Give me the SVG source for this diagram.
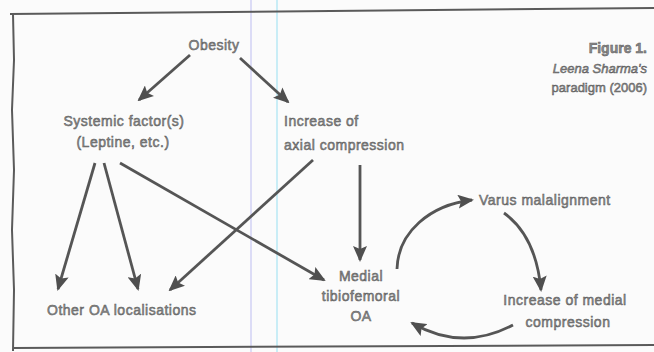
<svg xmlns="http://www.w3.org/2000/svg" width="654" height="352" viewBox="0 0 654 352">
<defs>
<marker id="ah" viewBox="0 0 16 14" refX="14" refY="7" markerWidth="16" markerHeight="14" markerUnits="userSpaceOnUse" orient="auto">
<path d="M0,0 L16,7 L0,14 L3,7 z" fill="#4f4f4f"/>
</marker>
<style>
.t{font-family:"Liberation Sans",Arial,sans-serif;font-size:14px;letter-spacing:0.5px;fill:#8c8c8c;stroke:#5a5a5a;stroke-width:0.5px;}
.cap{font-family:"Liberation Sans",Arial,sans-serif;font-size:13px;fill:#8c8c8c;stroke:#5a5a5a;stroke-width:0.5px;}
.c{stroke:#555;stroke-width:2.8;fill:none;marker-end:url(#ah);}
.fr{stroke:#5a5a5a;stroke-width:2;fill:none;}
</style>
</defs>
<rect width="654" height="352" fill="#fbfbfb"/>
<g id="scan-lines">
<line x1="251" y1="0" x2="251" y2="352" stroke="#c8c8f4" stroke-width="1.2"/>
<line x1="277" y1="0" x2="277" y2="352" stroke="#a8e4f4" stroke-width="1.2"/>
</g>
<g id="frame">
<path class="fr" d="M10,14 L654,8"/>
<path class="fr" d="M13,14 L14,60 L12,110 L14,170 L12,230 L14,290 L13,351"/>
<path class="fr" d="M13,348 L654,345"/>
</g>
<g id="caption">
<text x="647" y="53" text-anchor="end" class="cap" style="font-weight:bold;font-size:14px">Figure 1.</text>
<text x="647" y="73" text-anchor="end" class="cap" style="font-style:italic">Leena Sharma's</text>
<text x="647" y="92" text-anchor="end" class="cap">paradigm (2006)</text>
</g>
<g id="connectors">
<line class="c" x1="190" y1="55" x2="139" y2="100"/>
<line class="c" x1="240" y1="58" x2="288" y2="102"/>
<line class="c" x1="95" y1="163" x2="58" y2="289"/>
<line class="c" x1="104" y1="163" x2="138" y2="289"/>
<line class="c" x1="120" y1="163" x2="324" y2="280"/>
<line class="c" x1="313" y1="160" x2="170" y2="290"/>
<line class="c" x1="360" y1="165" x2="360" y2="260"/>
<path class="c" d="M397,269 C398,232 430,205 472,200"/>
<path class="c" d="M504,213 Q536,236 541,290"/>
<path class="c" d="M513,325 Q462,352 412,323"/>
</g>
<g id="obesity"><text x="214" y="50" text-anchor="middle" class="t">Obesity</text></g>
<g id="systemic">
<text x="124" y="126" text-anchor="middle" class="t">Systemic factor(s)</text>
<text x="123" y="147" text-anchor="middle" class="t">(Leptine, etc.)</text>
</g>
<g id="axial">
<text x="284" y="126" class="t">Increase of</text>
<text x="284" y="150" class="t">axial compression</text>
</g>
<g id="other-oa"><text x="47" y="315" class="t">Other OA localisations</text></g>
<g id="medial-oa">
<text x="361" y="281" text-anchor="middle" class="t">Medial</text>
<text x="361" y="301" text-anchor="middle" class="t">tibiofemoral</text>
<text x="361" y="321" text-anchor="middle" class="t">OA</text>
</g>
<g id="varus"><text x="479" y="205" class="t">Varus malalignment</text></g>
<g id="medial-compression">
<text x="565" y="305" text-anchor="middle" class="t">Increase of medial</text>
<text x="568" y="327" text-anchor="middle" class="t">compression</text>
</g>
</svg>
